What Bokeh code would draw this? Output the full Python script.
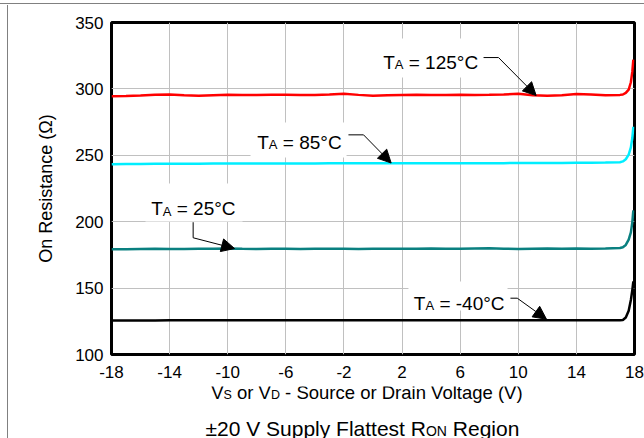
from bokeh.plotting import figure
from bokeh.layouts import column, row
from bokeh.models import Range1d, FixedTicker, Label, Arrow, NormalHead, Spacer
from bokeh.embed import file_html
from bokeh.resources import INLINE

# ---------------- data ----------------
V = [-18, -17, -16, -15, -14, -13, -12, -11, -10, -9, -8, -7, -6, -5, -4, -3, -2, -1,
     0, 1, 2, 3, 4, 5, 6, 7, 8, 9, 10, 11, 12, 13, 14, 15, 16, 17,
     17.2, 17.4, 17.6, 17.75, 17.85, 17.92]

R_125 = [294.5, 294.6, 295.0, 295.6, 295.8, 295.2, 294.8, 295.3, 295.6, 295.5, 295.4, 295.6,
         295.6, 295.5, 295.4, 295.7, 296.4, 295.5, 294.8, 295.2, 295.5, 295.6, 295.4, 295.5,
         295.6, 295.5, 295.6, 295.8, 296.3, 295.3, 294.8, 295.2, 296.1, 295.8, 295.2, 295.5,
         295.8, 297.0, 299.5, 305.0, 313.0, 322.0]
R_85 = [243.3, 243.4, 243.5, 243.6, 243.7, 243.7, 243.7, 243.8, 243.8, 243.8, 243.8, 243.9,
        243.9, 243.9, 243.9, 244.0, 244.0, 244.0, 244.0, 244.0, 244.0, 244.0, 244.0, 244.1,
        244.1, 244.1, 244.1, 244.1, 244.2, 244.2, 244.2, 244.2, 244.3, 244.3, 244.5, 244.8,
        245.4, 247.0, 250.5, 256.0, 263.0, 271.5]
R_25 = [179.3, 179.3, 179.5, 179.6, 179.5, 179.5, 179.6, 179.6, 179.8, 179.6, 179.5, 179.6,
        179.6, 179.5, 179.6, 179.7, 179.6, 179.5, 179.6, 179.7, 179.6, 179.6, 179.8, 179.6,
        179.6, 179.8, 180.0, 179.7, 179.5, 179.7, 179.8, 179.6, 179.8, 179.7, 179.8, 180.2,
        180.8, 182.5, 186.5, 192.0, 199.5, 208.5]
R_M40 = [125.6, 125.6, 125.6, 125.6, 125.7, 125.7, 125.7, 125.7, 125.7, 125.7, 125.7, 125.7,
         125.7, 125.7, 125.7, 125.7, 125.7, 125.7, 125.7, 125.7, 125.7, 125.7, 125.7, 125.7,
         125.7, 125.7, 125.7, 125.7, 125.7, 125.7, 125.7, 125.7, 125.7, 125.7, 125.8, 125.8,
         126.0, 127.8, 133.0, 141.0, 148.5, 155.0]

X_TICKS = [-18, -14, -10, -6, -2, 2, 6, 10, 14, 18]
Y_TICKS = [100, 150, 200, 250, 300, 350]

SERIES = [("125", R_125, "#ff0000"), ("85", R_85, "#00eeff"),
          ("25", R_25, "#0a8080"), ("-40", R_M40, "#000000")]

Y_TITLE = "On Resistance (Ω)"
X_TITLE = [("V", False), ("S", True), (" or V", False), ("D", True),
           (" - Source or Drain Voltage (V)", False)]
CAPTION = [("±20 V Supply Flattest R", False), ("ON", True), (" Region", False)]

FONT = "Liberation Sans"

WID = {' ': 278, '(': 333, ')': 333, '-': 333, '=': 584, '°': 400, '±': 549,
       'A': 667, 'C': 722, 'D': 722, 'F': 611, 'N': 722, 'O': 778, 'R': 722, 'S': 667,
       'T': 611, 'V': 667, 'a': 556, 'c': 500, 'e': 556, 'g': 556, 'i': 222, 'l': 222,
       'n': 556, 'o': 556, 'p': 556, 'r': 333, 's': 500, 't': 278, 'u': 556, 'y': 500,
       'Ω': 768}


def tw(s, size):
    return sum(WID.get(ch, 556) for ch in s) / 1000.0 * size


def rich(fig, x, y, parts, size, sub_size, drop, xs=1.0, ys=1.0):
    """Place text pieces side by side (subscripts smaller and lower)."""
    cx = x
    for txt, sub in parts:
        fs = sub_size if sub else size
        lead = len(txt) - len(txt.lstrip(" "))
        cx += tw(" " * lead, fs) * xs
        core = txt.strip(" ")
        if core:
            yy = y - drop * ys if sub else y
            fig.add_layout(Label(x=cx, y=yy, text=core, text_font=FONT,
                                 text_font_size=f"{fs}px", text_color="black",
                                 text_align="left", text_baseline="alphabetic"))
            cx += tw(core, fs) * xs
        trail = len(txt) - len(txt.rstrip(" "))
        if core and trail:
            cx += tw(" " * trail, fs) * xs


# ---------------- main figure ----------------
p = figure(width=635, height=381, x_range=Range1d(-18, 18), y_range=Range1d(100, 350),
           output_backend="svg", toolbar_location=None,
           min_border_left=102, min_border_right=10, min_border_top=17, min_border_bottom=32)
p.background_fill_color = "white"
p.border_fill_color = "white"
p.outline_line_color = "black"
p.outline_line_width = 3

p.xaxis.ticker = FixedTicker(ticks=X_TICKS)
p.yaxis.ticker = FixedTicker(ticks=Y_TICKS)
p.xgrid.ticker = FixedTicker(ticks=X_TICKS)
p.ygrid.ticker = FixedTicker(ticks=Y_TICKS)
p.xaxis.major_label_overrides = {t: str(t) for t in X_TICKS}
for g in (p.xgrid, p.ygrid):
    g.grid_line_color = "#c0c0c0"
    g.grid_line_width = 1
for ax in (p.xaxis, p.yaxis):
    ax.axis_line_color = None
    ax.major_tick_line_color = None
    ax.minor_tick_line_color = None
    ax.major_tick_out = 0
    ax.major_tick_in = 0
    ax.major_label_text_font = FONT
    ax.major_label_text_font_size = "17px"
    ax.major_label_text_color = "black"
p.xaxis.major_label_standoff = 11
p.yaxis.major_label_standoff = 8
p.yaxis.axis_label = Y_TITLE
p.yaxis.axis_label_text_font = FONT
p.yaxis.axis_label_text_font_size = "18px"
p.yaxis.axis_label_text_font_style = "normal"
p.yaxis.axis_label_text_color = "black"
p.yaxis.axis_label_standoff = 16

# screen px -> data unit factors for the frame (523 x 332 px)
XPX = 36 / 523
YPX = 250 / 332

# white boxes behind annotation texts (left, right, bottom, top)
BOXES = [(0.24, 7.68, 308.6, 338.0), (-8.43, -1.82, 248.3, 274.7),
         (-15.66, -8.98, 200.15, 228.8), (2.44, 9.26, 133.1, 155.0)]
p.quad(left=[b[0] for b in BOXES], right=[b[1] for b in BOXES],
       bottom=[b[2] for b in BOXES], top=[b[3] for b in BOXES],
       fill_color="white", line_color=None)

for name, vals, col in SERIES:
    p.line(V, vals, line_color=col, line_width=2.5)

# annotations: text pos, leader polyline, arrow tip
ANN = [
    ("125", (0.70, 320.1), [(7.61, 323.6), (8.64, 323.6)], (11.23, 295.0)),
    ("85", (-7.97, 259.9), [(-1.69, 265.4), (-0.65, 265.4)], (1.25, 244.2)),
    ("25", (-15.27, 209.7), [(-12.38, 199.6), (-12.38, 187.9)], (-9.53, 179.8)),
    ("-40", (2.81, 138.6), [(9.46, 142.4), (9.93, 142.4)], (11.94, 126.6)),
]
for t, (tx, ty), lead, tip in ANN:
    rich(p, tx, ty, [("T", False), ("A", True), (f" = {t}°C", False)], 19, 13, 2.7, XPX, YPX)
    p.line([a for a, b in lead], [b for a, b in lead], line_color="black", line_width=1)
    p.add_layout(Arrow(end=NormalHead(size=13, fill_color="black", line_color="black"),
                       x_start=lead[-1][0], y_start=lead[-1][1], x_end=tip[0], y_end=tip[1],
                       line_color="black", line_width=1))

# ---------------- bottom strip: axis title and caption ----------------
# same x range and side borders as the main plot, y in pixels from the bottom
q = figure(width=635, height=52, x_axis_type=None, y_axis_type=None,
           x_range=Range1d(-18, 18), y_range=Range1d(0, 52),
           output_backend="svg", toolbar_location=None,
           min_border_left=102, min_border_right=10, min_border_top=0, min_border_bottom=0)
q.background_fill_color = "white"
q.border_fill_color = "white"
q.outline_line_color = None
rich(q, -11.14, 45.8, X_TITLE, 18.5, 12.5, 2.6, XPX, 1.0)
rich(q, -11.53, 9.8, CAPTION, 21, 14, 2.0, XPX, 1.0)

# thin grey frame lines (top and left) with white padding around them
GREY = {"background-color": "#808080"}
layout = column(
    Spacer(width=644, height=3),
    Spacer(width=644, height=1, styles=GREY),
    Spacer(width=644, height=1),
    row(Spacer(width=7, height=433), Spacer(width=1, height=433, styles=GREY),
        Spacer(width=1, height=433), column(p, q, spacing=0), spacing=0),
    spacing=0)

open("out.html", "w").write(file_html(layout, INLINE))
